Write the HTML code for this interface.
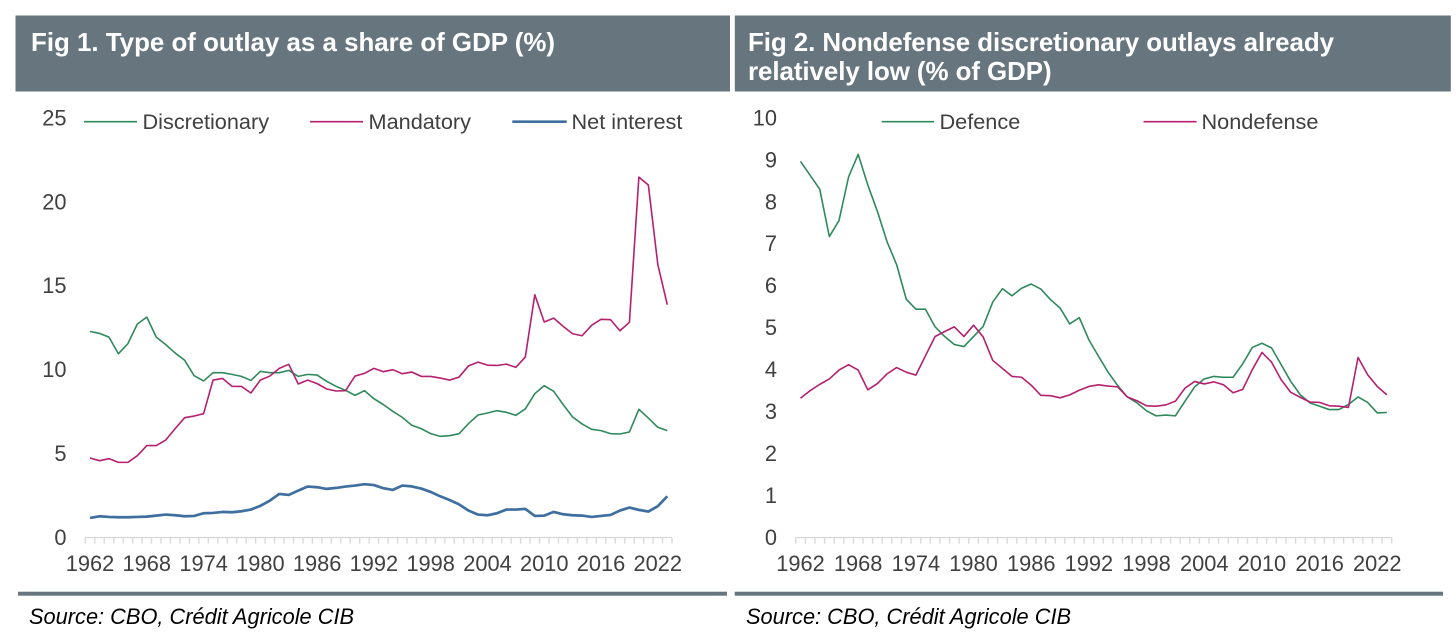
<!DOCTYPE html>
<html lang="en">
<head>
<meta charset="utf-8">
<title>Outlays as a share of GDP</title>
<style>
html,body{margin:0;padding:0;background:#fff;}
body{width:1456px;height:632px;overflow:hidden;}
svg{display:block;font-family:"Liberation Sans",Arial,sans-serif;}
.title{font-size:25.9px;font-weight:700;fill:#fff;}
.source{font-size:21.8px;font-style:italic;fill:#000;}
.tick{font-size:21.8px;fill:#404040;}
.legend{font-size:21.7px;fill:#404040;}
</style>
</head>
<body>
<svg id="root" width="1456" height="632" viewBox="0 0 1456 632" xmlns="http://www.w3.org/2000/svg">
  <rect x="0" y="0" width="1456" height="632" fill="#fff"/>
  <rect x="15.5" y="15.5" width="714.5" height="76" fill="#67767e"/>
  <text class="title" x="31" y="51" textLength="524" lengthAdjust="spacing">Fig 1. Type of outlay as a share of GDP (%)</text>
  <rect x="734.8" y="15.5" width="716" height="76" fill="#67767e"/>
  <text class="title" x="748" y="51" textLength="586" lengthAdjust="spacing">Fig 2. Nondefense discretionary outlays already</text>
  <text class="title" x="748" y="80" textLength="303.6" lengthAdjust="spacing">relatively low (% of GDP)</text>
  <rect x="18" y="591.7" width="709" height="4" fill="#67767e"/>
  <rect x="734.7" y="591.7" width="708.3" height="4" fill="#67767e"/>
  <text class="source" x="29" y="624">Source: CBO, Crédit Agricole CIB</text>
  <text class="source" x="746" y="624">Source: CBO, Crédit Agricole CIB</text>
  <g id="chart1"></g>
  <g id="chart2"></g>
</svg>
<script>
var firstYear = 1962;
var lastYear = 2023;
var xTickEvery = 6;

var fig1YTicks = [0, 5, 10, 15, 20, 25];
var fig2YTicks = [0, 1, 2, 3, 4, 5, 6, 7, 8, 9, 10];

var discretionary = [12.28,12.16,11.94,10.95,11.55,12.72,13.13,11.94,11.49,10.99,10.56,9.64,9.33,9.82,9.82,9.72,9.6,9.36,9.9,9.82,9.82,9.96,9.6,9.72,9.68,9.31,9.01,8.77,8.47,8.75,8.27,7.92,7.52,7.16,6.69,6.49,6.19,6.03,6.07,6.19,6.79,7.3,7.42,7.56,7.46,7.28,7.66,8.57,9.05,8.71,7.92,7.18,6.77,6.45,6.37,6.19,6.17,6.29,7.64,7.12,6.57,6.37];
var mandatory = [4.74,4.58,4.7,4.48,4.48,4.88,5.48,5.48,5.81,6.49,7.14,7.24,7.38,9.38,9.48,9.01,9.0,8.61,9.38,9.62,10.08,10.32,9.15,9.38,9.17,8.85,8.73,8.75,9.62,9.78,10.08,9.88,10.0,9.76,9.86,9.6,9.6,9.5,9.38,9.56,10.23,10.45,10.27,10.25,10.33,10.14,10.75,14.46,12.84,13.07,12.58,12.14,12.02,12.64,13.0,12.98,12.32,12.82,21.47,21.0,16.27,13.87];
var netInterest = [1.17,1.27,1.23,1.21,1.21,1.23,1.25,1.31,1.37,1.33,1.27,1.29,1.45,1.47,1.53,1.51,1.57,1.67,1.89,2.2,2.6,2.54,2.8,3.04,3.0,2.9,2.96,3.04,3.1,3.18,3.13,2.94,2.84,3.1,3.05,2.92,2.72,2.46,2.24,1.98,1.61,1.37,1.33,1.45,1.67,1.67,1.71,1.29,1.31,1.53,1.39,1.33,1.31,1.23,1.29,1.35,1.61,1.79,1.65,1.55,1.87,2.46];

var defence = [8.96,8.63,8.3,7.17,7.55,8.59,9.13,8.4,7.77,7.05,6.5,5.68,5.44,5.44,5.02,4.79,4.6,4.55,4.79,5.03,5.61,5.93,5.76,5.94,6.04,5.92,5.67,5.47,5.09,5.24,4.71,4.32,3.94,3.62,3.35,3.21,3.02,2.9,2.92,2.9,3.25,3.59,3.78,3.84,3.82,3.82,4.14,4.53,4.63,4.52,4.12,3.72,3.4,3.21,3.13,3.05,3.05,3.17,3.35,3.22,2.97,2.98];
var nondefense = [3.32,3.5,3.65,3.78,3.99,4.12,3.99,3.52,3.67,3.9,4.05,3.94,3.87,4.33,4.79,4.91,5.02,4.79,5.06,4.78,4.22,4.03,3.84,3.82,3.63,3.39,3.38,3.33,3.4,3.51,3.6,3.64,3.61,3.59,3.35,3.26,3.14,3.13,3.16,3.25,3.56,3.72,3.66,3.71,3.64,3.45,3.53,4.0,4.41,4.18,3.76,3.46,3.34,3.23,3.22,3.14,3.13,3.1,4.29,3.88,3.6,3.4];

var SVG_NS = 'http://www.w3.org/2000/svg';
var GREEN = '#2f8a5b';
var MAGENTA = '#b5206f';
var BLUE = '#3f6f9f';

function make(tag, attrs, parent, text) {
  var node = document.createElementNS(SVG_NS, tag);
  for (var key in attrs) { node.setAttribute(key, attrs[key]); }
  if (text !== undefined) { node.textContent = text; }
  parent.appendChild(node);
  return node;
}

function drawChart(cfg) {
  var group = document.getElementById(cfg.id);
  var count = lastYear - firstYear + 1;
  var step = (cfg.axisRight - cfg.axisLeft) / count;
  var xScale = function (i) { return cfg.axisLeft + step * (i + 0.5); };
  var yScale = function (v) { return cfg.yZero - (v / cfg.yMax) * (cfg.yZero - cfg.yTop); };

  var axisPath = 'M' + cfg.axisLeft + ' ' + cfg.yZero + 'H' + cfg.axisRight;
  for (var t = 0; t <= count; t++) {
    var tx = (cfg.axisLeft + step * t).toFixed(2);
    axisPath += 'M' + tx + ' ' + cfg.yZero + 'V' + (cfg.yZero + 6);
  }
  var axis = make('path', { d: axisPath, fill: 'none', stroke: '#d9d9d9', 'stroke-width': 1.4 }, group);
  
  

  cfg.yTicks.forEach(function (v) {
    var label = make('text', { class: 'tick', x: cfg.yLabelX, y: (yScale(v) + 7.5).toFixed(2), 'text-anchor': 'end' }, group, String(v));
    
    
  });

  for (var y = 0; y < count; y += xTickEvery) {
    var xLabel = make('text', { class: 'tick', x: xScale(y).toFixed(2), y: 571, 'text-anchor': 'middle' }, group, String(firstYear + y));
    
    
  }

  cfg.series.forEach(function (s) {
    var d = s.values.map(function (v, i) {
      return (i ? 'L' : 'M') + xScale(i).toFixed(2) + ' ' + yScale(v).toFixed(2);
    }).join('');
    var line = make('path', { d: d, fill: 'none', stroke: s.color, 'stroke-width': s.width, 'stroke-linejoin': 'round' }, group);
    
    

    var swatch = make('line', { x1: s.lx1, x2: s.lx2, y1: 121.7, y2: 121.7, stroke: s.color, 'stroke-width': s.width }, group);
    
    

    var legendText = make('text', { class: 'legend', x: s.tx, y: 129 }, group, s.label);
    
    
  });
}

drawChart({
  id: 'chart1', axisLeft: 85.3, axisRight: 672, yZero: 537.6, yTop: 117.8, yMax: 25,
  yLabelX: 66.5, yTicks: fig1YTicks,
  series: [
    { key: 'discretionary', label: 'Discretionary', values: discretionary, color: GREEN, width: 1.6, lx1: 84, lx2: 137, tx: 142.5 },
    { key: 'mandatory', label: 'Mandatory', values: mandatory, color: MAGENTA, width: 1.6, lx1: 310, lx2: 363, tx: 368.5 },
    { key: 'net-interest', label: 'Net interest', values: netInterest, color: BLUE, width: 2.7, lx1: 512.3, lx2: 566.7, tx: 571.5 }
  ]
});

drawChart({
  id: 'chart2', axisLeft: 795.7, axisRight: 1391.7, yZero: 537.6, yTop: 117.8, yMax: 10,
  yLabelX: 777, yTicks: fig2YTicks,
  series: [
    { key: 'defence', label: 'Defence', values: defence, color: GREEN, width: 1.6, lx1: 881.7, lx2: 934, tx: 939.5 },
    { key: 'nondefense', label: 'Nondefense', values: nondefense, color: MAGENTA, width: 1.6, lx1: 1143.5, lx2: 1196.6, tx: 1201.5 }
  ]
});
</script>
</body>
</html>
